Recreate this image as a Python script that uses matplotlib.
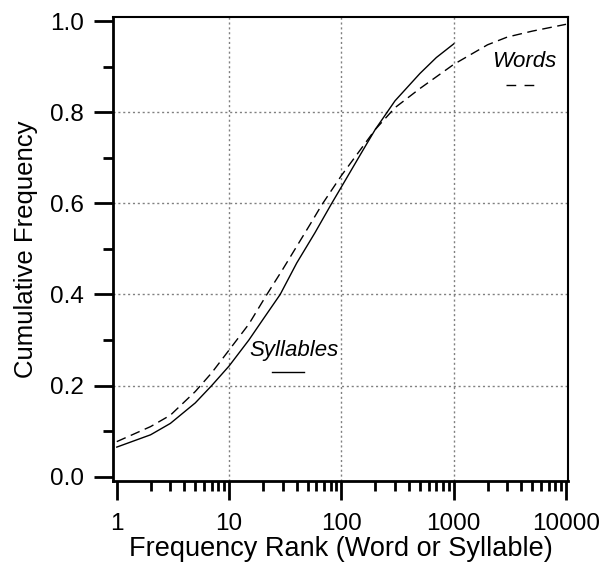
import numpy as np
import matplotlib
matplotlib.use("Agg")
import matplotlib.pyplot as plt
from matplotlib.ticker import FixedLocator, FixedFormatter, LogLocator, NullFormatter

plt.rcParams['font.family'] = ['Liberation Sans', 'DejaVu Sans']

# data
syl_rank = [1, 2, 3, 5, 7, 10, 15, 20, 28.5, 40, 58, 82, 100, 150, 200, 300, 500, 700, 1000]
syl_cum = [0.065, 0.092, 0.117, 0.162, 0.2, 0.243, 0.3, 0.345, 0.40, 0.469, 0.535, 0.6,
           0.636, 0.71, 0.762, 0.825, 0.885, 0.92, 0.95]

word_rank = [1, 2, 3, 5, 7, 10, 15, 21.7, 30, 53, 67, 100, 150, 200, 300, 500, 1000,
             2000, 3000, 5000, 10000]
word_cum = [0.077, 0.11, 0.135, 0.187, 0.228, 0.278, 0.335, 0.40, 0.455, 0.555, 0.597,
            0.661, 0.72, 0.762, 0.81, 0.852, 0.905, 0.948, 0.965, 0.978, 0.993]

x_ticks = [1, 10, 100, 1000, 10000]
x_labels = ["1", "10", "100", "1000", "10000"]
y_ticks = [0.0, 0.2, 0.4, 0.6, 0.8, 1.0]

fig = plt.figure(figsize=(6.03, 5.67), dpi=100)
ax = fig.add_axes([0.187, 0.152, 0.755, 0.818])

ax.plot(syl_rank, syl_cum, color='black', lw=1.0)
ax.plot(word_rank, word_cum, color='black', lw=1.0, dashes=(7, 4))

ax.set_xscale('log')
ax.set_xlim(0.921, 10418)
ax.set_ylim(-0.009, 1.009)

ax.xaxis.set_major_locator(FixedLocator(x_ticks))
ax.xaxis.set_major_formatter(FixedFormatter(x_labels))
ax.xaxis.set_minor_locator(LogLocator(base=10, subs=np.arange(2, 10)))
ax.xaxis.set_minor_formatter(NullFormatter())
ax.yaxis.set_major_locator(FixedLocator(y_ticks))
ax.yaxis.set_minor_locator(FixedLocator([0.1, 0.3, 0.5, 0.7, 0.9]))
ax.yaxis.set_major_formatter(plt.FuncFormatter(lambda v, p: f"{v:.1f}"))

ax.tick_params(which='major', direction='out', length=14, width=2, labelsize=17.5)
ax.tick_params(axis='x', which='major', pad=9)
ax.tick_params(axis='y', which='major', pad=7)
ax.tick_params(which='minor', direction='out', length=7.5, width=2)

for s in ['left', 'bottom']:
    ax.spines[s].set_linewidth(2)
for s in ['top', 'right']:
    ax.spines[s].set_linewidth(1.5)

# dotted grid at inner major ticks
for xv in [10, 100, 1000]:
    ax.axvline(xv, color='#808080', lw=1, ls=(0, (1.5, 2)), zorder=0)
for yv in [0.2, 0.4, 0.6, 0.8]:
    ax.axhline(yv, color='#808080', lw=1, ls=(0, (1.5, 2)), zorder=0)

ax.set_xlabel("Frequency Rank (Word or Syllable)", fontsize=19.5, labelpad=1)
ax.set_ylabel("Cumulative Frequency", fontsize=18.5, labelpad=8)

# inline labels
ax.text(0.904, 0.904, "Words", style='italic', fontsize=16, ha='center', va='center',
        transform=ax.transAxes)
ax.plot([0.864, 0.935], [0.853, 0.853], color='black', lw=1.0, dashes=(7, 6),
        transform=ax.transAxes)
ax.text(0.398, 0.282, "Syllables", style='italic', fontsize=16, ha='center', va='center',
        transform=ax.transAxes)
ax.plot([0.349, 0.419], [0.235, 0.235], color='black', lw=1.0, transform=ax.transAxes)

fig.savefig("out.png", dpi=100)
